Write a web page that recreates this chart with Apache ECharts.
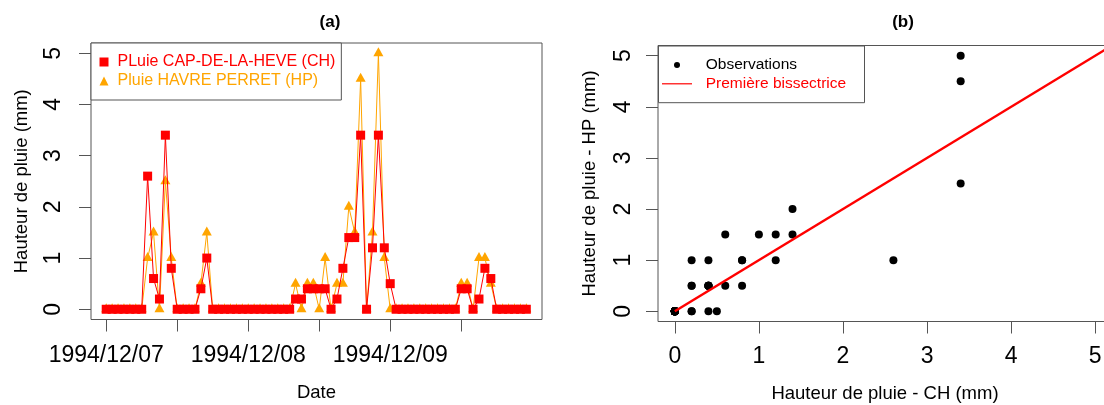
<!DOCTYPE html>
<html><head><meta charset="utf-8">
<script src="https://cdn.jsdelivr.net/npm/echarts@6/dist/echarts.min.js"></script>
<style>html,body{margin:0;padding:0;background:#fff}#c{width:1104px;height:405px}</style>
</head><body><div id="c"></div>
<script>
// Hourly time index (hours since 1994/12/07 00:00)
const hours = [0,1,2,3,4,5,6,7,8,9,10,11,12,13,14,15,16,17,18,19,20,21,22,23,
  24,25,26,27,28,29,30,31,32,33,34,35,36,37,38,39,40,41,42,43,44,45,46,47,
  48,49,50,51,52,53,54,55,56,57,58,59,60,61,62,63,64,65,66,67,68,69,70,71];
// Pluie CAP-DE-LA-HEVE (CH), mm
const rainCH = [0,0,0,0,0,0,0,2.6,0.6,0.2,3.4,0.8,0,0,0,0,0.4,1.0,0,0,0,0,0,0,
  0,0,0,0,0,0,0,0,0.2,0.2,0.4,0.4,0.4,0.4,0,0.2,0.8,1.4,1.4,3.4,0,1.2,3.4,1.2,
  0.5,0,0,0,0,0,0,0,0,0,0,0,0.4,0.4,0,0.2,0.8,0.6,0,0,0,0,0,0];
// Pluie HAVRE PERRET (HP), mm
const rainHP = [0,0,0,0,0,0,0,1.0,1.5,0,2.5,1.0,0,0,0,0,0.5,1.5,0,0,0,0,0,0,
  0,0,0,0,0,0,0,0,0.5,0,0.5,0.5,0,1.0,0,0.5,0.5,2.0,1.5,4.5,0,1.5,5.0,1.0,
  0,0,0,0,0,0,0,0,0,0,0,0,0.5,0.5,0,1.0,1.0,0.5,0,0,0,0,0,0];
const tickHours = [0,12,24,36,48,60];
const labelHours = [0,24,48];
const dateLabels = ["1994/12/07","1994/12/08","1994/12/09"];
const valueTicks = [0,1,2,3,4,5];
const bisector = [0,5.2];
const nameCH = "PLuie CAP-DE-LA-HEVE (CH)";
const nameHP = "Pluie HAVRE PERRET (HP)";

const FONT = "'Liberation Sans', Arial, sans-serif";
const AX = '#555';
const RED = '#FF0000', ORANGE = '#FFA500';

const chart = echarts.init(document.getElementById('c'), null, {renderer:'canvas'});

function valueAxis(grid, opts){
  return Object.assign({
    gridIndex: grid, type:'value', min:-0.2, max:5.2,
    axisLine:{show:false, onZero:false}, splitLine:{show:false},
    axisTick:{show:true, inside:false, length:12, lineStyle:{color:AX}, customValues:valueTicks},
    nameLocation:'middle',
    nameTextStyle:{fontSize:18.5, color:'#000', fontFamily:FONT}
  }, opts);
}

const option = {
  animation:false,
  textStyle:{fontFamily:FONT},
  grid:[
    {left:91, top:43, width:451, height:276.5, show:true, borderColor:AX, borderWidth:1, outerBoundsMode:'none'},
    {left:658, top:45.5, width:454, height:276, show:true, borderColor:AX, borderWidth:1, outerBoundsMode:'none'}
  ],
  xAxis:[
    {gridIndex:0, type:'value', min:-2.57, max:73.65,
     axisLine:{show:false, onZero:false}, splitLine:{show:false},
     axisTick:{show:true, inside:false, length:12, lineStyle:{color:AX}, customValues:tickHours},
     axisLabel:{customValues:labelHours, formatter:v=>dateLabels[labelHours.indexOf(v)], fontSize:23, color:'#000', margin:25, fontFamily:FONT},
     name:'Date', nameLocation:'middle', nameGap:64,
     nameTextStyle:{fontSize:18.5, color:'#000', fontFamily:FONT}},
    valueAxis(1, {name:'Hauteur de pluie - CH (mm)', nameGap:63,
      axisLabel:{customValues:valueTicks, fontSize:23, color:'#000', margin:24, fontFamily:FONT}})
  ],
  yAxis:[
    valueAxis(0, {name:'Hauteur de pluie (mm)', nameGap:59.5,
      axisLabel:{customValues:valueTicks, fontSize:23, color:'#000', margin:25.8, rotate:90, fontFamily:FONT}}),
    valueAxis(1, {name:'Hauteur de pluie - HP (mm)', nameGap:59,
      axisLabel:{customValues:valueTicks, fontSize:23, color:'#000', margin:22.8, rotate:90, fontFamily:FONT}})
  ],
  legend:[
    {orient:'vertical', left:91, top:43, selectedMode:false,
     borderColor:AX, borderWidth:1, backgroundColor:'#fff',
     padding:[11,6,11,8.5], itemGap:3, itemWidth:9, itemHeight:9,
     textStyle:{fontSize:16, fontFamily:FONT, padding:[0,0,0,4]},
     data:[
       {name:nameCH, icon:'rect', itemStyle:{color:RED}, textStyle:{color:RED}},
       {name:nameHP, icon:'triangle', itemStyle:{color:ORANGE}, textStyle:{color:ORANGE}}
     ]},
    {orient:'vertical', left:674, top:57, selectedMode:false,
     padding:0, itemWidth:6, itemHeight:6, z:6,
     textStyle:{fontSize:15.5, fontFamily:FONT, padding:[0,0,0,20.7]},
     data:[
       {name:'Observations', icon:'circle', itemStyle:{color:'#000', opacity:1}, textStyle:{color:'#000'}}
     ]},
    {orient:'vertical', left:662, top:75.8, selectedMode:false,
     padding:0, itemWidth:30, itemHeight:1.2, z:6,
     textStyle:{fontSize:15.5, fontFamily:FONT, padding:[0,0,0,8.7]},
     data:[
       {name:'Première bissectrice', icon:'rect', itemStyle:{color:RED}, textStyle:{color:RED}}
     ]}
  ],
  graphic:[
    {type:'rect', z:5, shape:{x:658.5, y:46, width:206, height:56.7}, style:{fill:'#fff', stroke:AX, lineWidth:1}},
    {type:'text', x:330, y:22, style:{text:'(a)', font:"bold 17px 'Liberation Sans', Arial", fill:'#000', align:'center', verticalAlign:'middle', textAlign:'center', textVerticalAlign:'middle'}},
    {type:'text', x:903, y:22, style:{text:'(b)', font:"bold 17px 'Liberation Sans', Arial", fill:'#000', align:'center', verticalAlign:'middle', textAlign:'center', textVerticalAlign:'middle'}}
  ],
  series:[
    {type:'line', name:nameHP, xAxisIndex:0, yAxisIndex:0, z:2,
     data:hours.map((h,i)=>[h, rainHP[i]]),
     symbol:'triangle', symbolSize:[10,9], symbolOffset:[0,-1.5], showSymbol:true, showAllSymbol:true,
     itemStyle:{color:ORANGE}, lineStyle:{color:ORANGE, width:1}, silent:true, emphasis:{disabled:true}},
    {type:'line', name:nameCH, xAxisIndex:0, yAxisIndex:0, z:3,
     data:hours.map((h,i)=>[h, rainCH[i]]),
     symbol:'rect', symbolSize:9, showSymbol:true, showAllSymbol:true,
     itemStyle:{color:RED}, lineStyle:{color:RED, width:1}, silent:true, emphasis:{disabled:true}},
    {type:'scatter', name:'Observations', xAxisIndex:1, yAxisIndex:1, z:2,
     data:rainCH.map((c,i)=>[c, rainHP[i]]),
     symbol:'circle', symbolSize:8, itemStyle:{color:'#000', opacity:1}, silent:true, emphasis:{disabled:true}},
    {type:'line', name:'Première bissectrice', xAxisIndex:1, yAxisIndex:1, z:3,
     data:bisector.map(v=>[v,v]), symbol:'none', clip:true,
     lineStyle:{color:RED, width:2.5}, itemStyle:{color:RED}, silent:true, emphasis:{disabled:true}}
  ]
};
chart.setOption(option);
</script></body></html>
